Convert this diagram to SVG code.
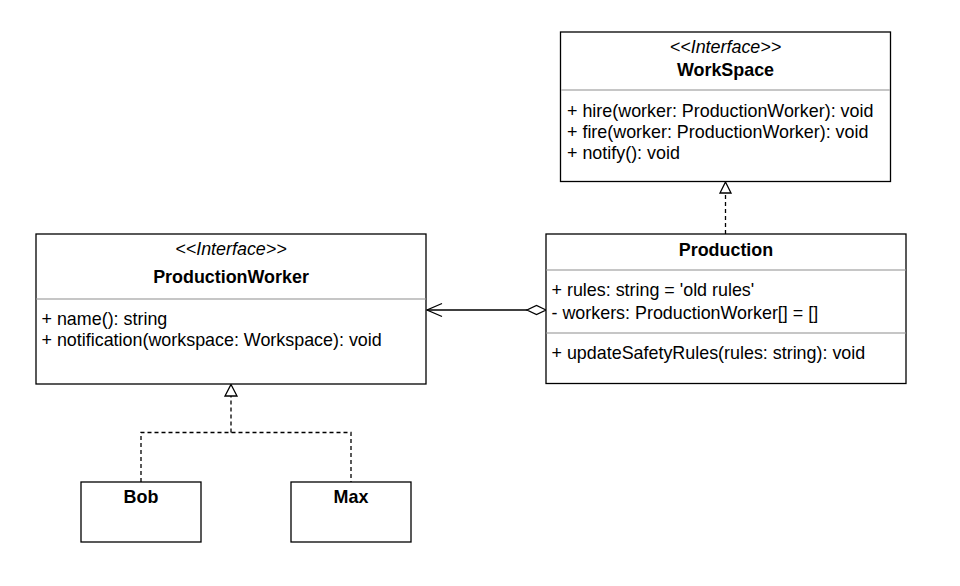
<svg xmlns="http://www.w3.org/2000/svg" width="960" height="586" viewBox="0 0 960 586">
<style>
.box{fill:#fff;stroke:#000;stroke-width:1.3}
.div{stroke:#b3b3b3;stroke-width:1.3}
text{font-family:"Liberation Sans",Arial,sans-serif;font-size:17.9px;fill:#000}
.t{font-weight:bold;text-anchor:middle}
.s{font-style:italic;text-anchor:middle}
.ln{fill:none;stroke:#000;stroke-width:1.3}
.dash{stroke-dasharray:4 3}
</style>
<rect width="960" height="586" fill="#fff"/>
<g id="connectors">
  <path class="ln dash" d="M725.5 234 V193"/>
  <path class="ln" d="M725.5 182 L731 193 H720 Z" style="fill:#fff"/>
  <path class="ln dash" d="M141 482 V432.5 H351 V482 M231 432.5 V396"/>
  <path class="ln" d="M231 384.5 L237 396 H225 Z" style="fill:#fff"/>
  <path class="ln" d="M527 310 H427"/>
  <path class="ln" d="M442 303.5 L427 310 L442 316.5"/>
  <path class="ln" d="M546 310 L536.5 305.5 L527 310 L536.5 314.5 Z" style="fill:#fff"/>
</g>
<g id="WorkSpace">
  <rect class="box" x="560.5" y="32" width="330" height="149.5"/>
  <line class="div" x1="561" y1="90" x2="890" y2="90"/>
  <text class="s" x="725.5" y="52.5">&lt;&lt;Interface&gt;&gt;</text>
  <text class="t" x="725.5" y="75.5">WorkSpace</text>
  <text x="567" y="116.5">+ hire(worker: ProductionWorker): void</text>
  <text x="567" y="137.5">+ fire(worker: ProductionWorker): void</text>
  <text x="567" y="158.5">+ notify(): void</text>
</g>
<g id="Production">
  <rect class="box" x="546" y="234" width="360" height="149.5"/>
  <line class="div" x1="546.5" y1="270" x2="905.5" y2="270"/>
  <text class="t" x="726" y="256">Production</text>
  <text x="551.5" y="296">+ rules: string = 'old rules'</text>
  <text x="551.5" y="318.5">- workers: ProductionWorker[] = []</text>
  <line class="div" x1="546.5" y1="333" x2="905.5" y2="333"/>
  <text x="551.5" y="359">+ updateSafetyRules(rules: string): void</text>
</g>
<g id="ProductionWorker">
  <rect class="box" x="36" y="234" width="390" height="150"/>
  <line class="div" x1="36.5" y1="299" x2="425.5" y2="299"/>
  <text class="s" x="231" y="255">&lt;&lt;Interface&gt;&gt;</text>
  <text class="t" x="231" y="283">ProductionWorker</text>
  <text x="41.5" y="325">+ name(): string</text>
  <text x="41.5" y="346">+ notification(workspace: Workspace): void</text>
</g>
<g id="Bob">
  <rect class="box" x="81" y="482" width="120" height="60"/>
  <text class="t" x="141" y="503">Bob</text>
</g>
<g id="Max">
  <rect class="box" x="291" y="482" width="120" height="60"/>
  <text class="t" x="351" y="503">Max</text>
</g>
</svg>
